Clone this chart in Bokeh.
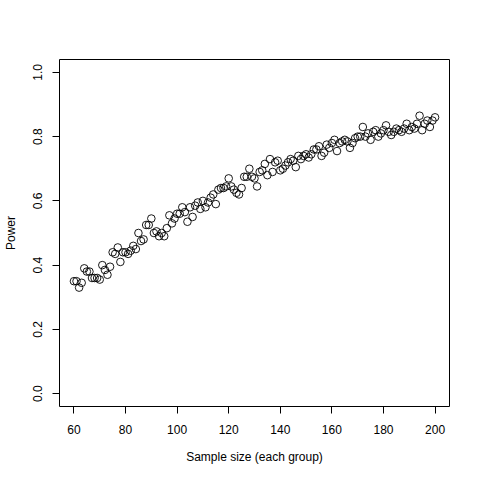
from bokeh.plotting import figure
from bokeh.models import Range1d, FixedTicker
from bokeh.embed import file_html
from bokeh.resources import INLINE

sample_size = list(range(60, 201))
power = [
    0.35, 0.35, 0.33, 0.345, 0.39, 0.38, 0.38, 0.36, 0.36, 0.36,
    0.355, 0.40, 0.385, 0.37, 0.395, 0.44, 0.435, 0.455, 0.41, 0.44,
    0.44, 0.435, 0.445, 0.46, 0.45, 0.50, 0.475, 0.48, 0.525, 0.525,
    0.545, 0.50, 0.505, 0.49, 0.50, 0.49, 0.515, 0.555, 0.53, 0.545,
    0.56, 0.56, 0.58, 0.565, 0.535, 0.58, 0.55, 0.585, 0.595, 0.575,
    0.60, 0.58, 0.595, 0.61, 0.62, 0.59, 0.635, 0.64, 0.64, 0.645,
    0.67, 0.645, 0.635, 0.625, 0.62, 0.64, 0.675, 0.675, 0.70, 0.675,
    0.67, 0.645, 0.69, 0.695, 0.715, 0.68, 0.73, 0.69, 0.72, 0.725,
    0.695, 0.70, 0.71, 0.72, 0.73, 0.725, 0.705, 0.74, 0.73, 0.74,
    0.745, 0.735, 0.745, 0.76, 0.76, 0.77, 0.74, 0.75, 0.775, 0.765,
    0.78, 0.79, 0.755, 0.78, 0.785, 0.79, 0.785, 0.765, 0.78, 0.795,
    0.80, 0.80, 0.83, 0.80, 0.81, 0.79, 0.815, 0.82, 0.80, 0.81,
    0.82, 0.835, 0.815, 0.805, 0.815, 0.825, 0.82, 0.815, 0.825, 0.84,
    0.82, 0.83, 0.825, 0.84, 0.865, 0.82, 0.84, 0.85, 0.83, 0.85,
    0.86,
]
x_ticks = [60, 80, 100, 120, 140, 160, 180, 200]
y_ticks = [0.0, 0.2, 0.4, 0.6, 0.8, 1.0]
y_tick_labels = {0.0: "0.0", 0.2: "0.2", 0.4: "0.4", 0.6: "0.6", 0.8: "0.8", 1.0: "1.0"}

FONT = "Liberation Sans"

p = figure(width=464, height=468, output_backend="svg", toolbar_location=None,
           x_range=Range1d(54.4, 205.6), y_range=Range1d(-0.04, 1.04),
           min_border_left=59, min_border_right=15, min_border_top=59, min_border_bottom=62)
p.background_fill_color = "white"
p.border_fill_color = "white"
p.outline_line_color = "black"
p.outline_line_width = 1
p.xgrid.visible = False
p.ygrid.visible = False

p.scatter(sample_size, power, marker="circle", size=7.6, fill_color=None,
          line_color="black", line_width=0.9)

for ax in (p.xaxis[0], p.yaxis[0]):
    ax.axis_line_color = None
    ax.major_tick_in = 0
    ax.major_tick_out = 7
    ax.major_tick_line_color = "black"
    ax.minor_tick_line_color = None
    ax.major_label_text_font = FONT
    ax.major_label_text_font_size = "12px"
    ax.major_label_text_color = "black"
    ax.axis_label_text_font = FONT
    ax.axis_label_text_font_size = "12px"
    ax.axis_label_text_font_style = "normal"
    ax.axis_label_text_color = "black"

p.xaxis[0].ticker = FixedTicker(ticks=x_ticks)
p.yaxis[0].ticker = FixedTicker(ticks=y_ticks)
p.yaxis[0].major_label_overrides = y_tick_labels
p.yaxis[0].major_label_orientation = "vertical"
p.xaxis[0].axis_label = "Sample size (each group)"
p.yaxis[0].axis_label = "Power"
p.xaxis[0].major_label_standoff = 11
p.xaxis[0].axis_label_standoff = 13
p.yaxis[0].major_label_standoff = 10
p.yaxis[0].axis_label_standoff = 13

open("out.html", "w").write(file_html(p, INLINE))
